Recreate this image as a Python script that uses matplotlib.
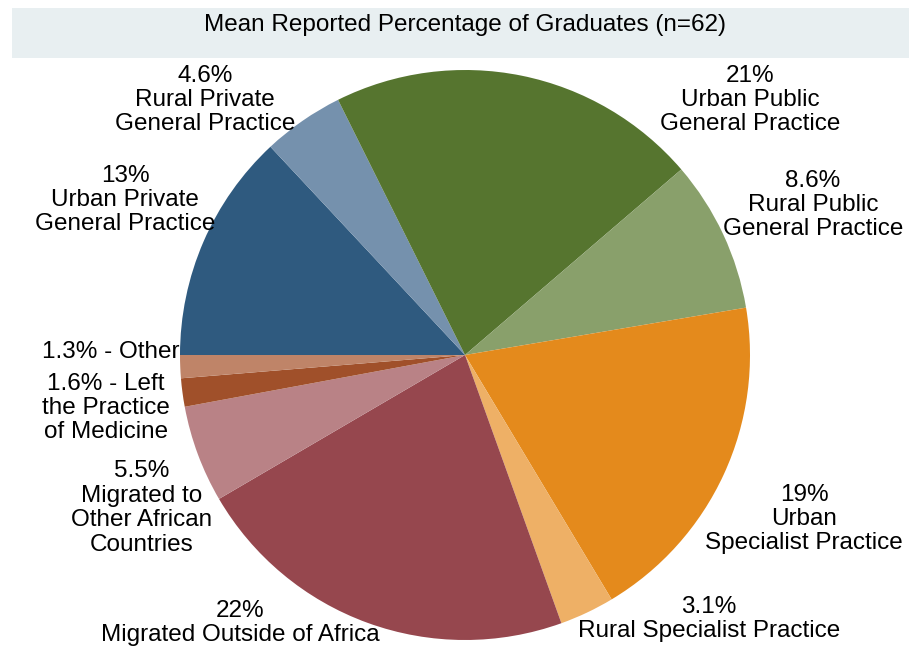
import matplotlib
matplotlib.use("Agg")
import matplotlib.pyplot as plt
from matplotlib.patches import Rectangle

plt.rcParams['font.family'] = ['Liberation Sans', 'DejaVu Sans']

# slices in clockwise order, starting at 9 o'clock
categories = ["Urban Private General Practice", "Rural Private General Practice",
              "Urban Public General Practice", "Rural Public General Practice",
              "Urban Specialist Practice", "Rural Specialist Practice",
              "Migrated Outside of Africa", "Migrated to Other African Countries",
              "Left the Practice of Medicine", "Other"]
values = [13, 4.6, 21, 8.6, 19, 3.1, 22, 5.5, 1.6, 1.3]
colors = ["#2f5a7f", "#7591ad", "#56752f", "#89a06b", "#e48a1c",
          "#eeb066", "#96474e", "#b98286", "#a0502a", "#bf8468"]
labels = ["13%\nUrban Private\nGeneral Practice",
          "4.6%\nRural Private\nGeneral Practice",
          "21%\nUrban Public\nGeneral Practice",
          "8.6%\nRural Public\nGeneral Practice",
          "19%\nUrban\nSpecialist Practice",
          "3.1%\nRural Specialist Practice",
          "22%\nMigrated Outside of Africa",
          "5.5%\nMigrated to\nOther African\nCountries",
          "1.6% - Left\nthe Practice\nof Medicine",
          "1.3% - Other"]
# label anchor positions (pixels, from top-left) and alignment
label_pos = [(125, 200, "center"), (205, 100, "center"), (750, 100, "center"),
             (813, 205, "center"), (804, 519, "center"), (709, 619, "center"),
             (240, 623, "center"), (142, 508, "center"), (106, 408, "center"),
             (179, 352, "right")]

W, H = 909, 651
fig = plt.figure(figsize=(W / 100, H / 100), dpi=100)
ax = fig.add_axes([0, 0, 1, 1])

# title band
ax.add_patch(Rectangle((12, H - 58), W - 12, 50, facecolor="#e8eff1", edgecolor="none"))
ax.text(465, H - 25, "Mean Reported Percentage of Graduates (n=62)",
        ha="center", va="center", fontsize=17.5)

ax.pie(values, colors=colors, startangle=180, counterclock=False,
       center=(465, H - 355), radius=285, frame=True,
       wedgeprops=dict(linewidth=0))
ax.set_xlim(0, W)
ax.set_ylim(0, H)
ax.set_aspect("equal")
ax.axis("off")

for lab, (x, y, ha) in zip(labels, label_pos):
    ax.text(x, H - y, lab, ha=ha, va="center", fontsize=17.5,
            linespacing=1.14, multialignment="center")

fig.savefig("out.png", dpi=100)
